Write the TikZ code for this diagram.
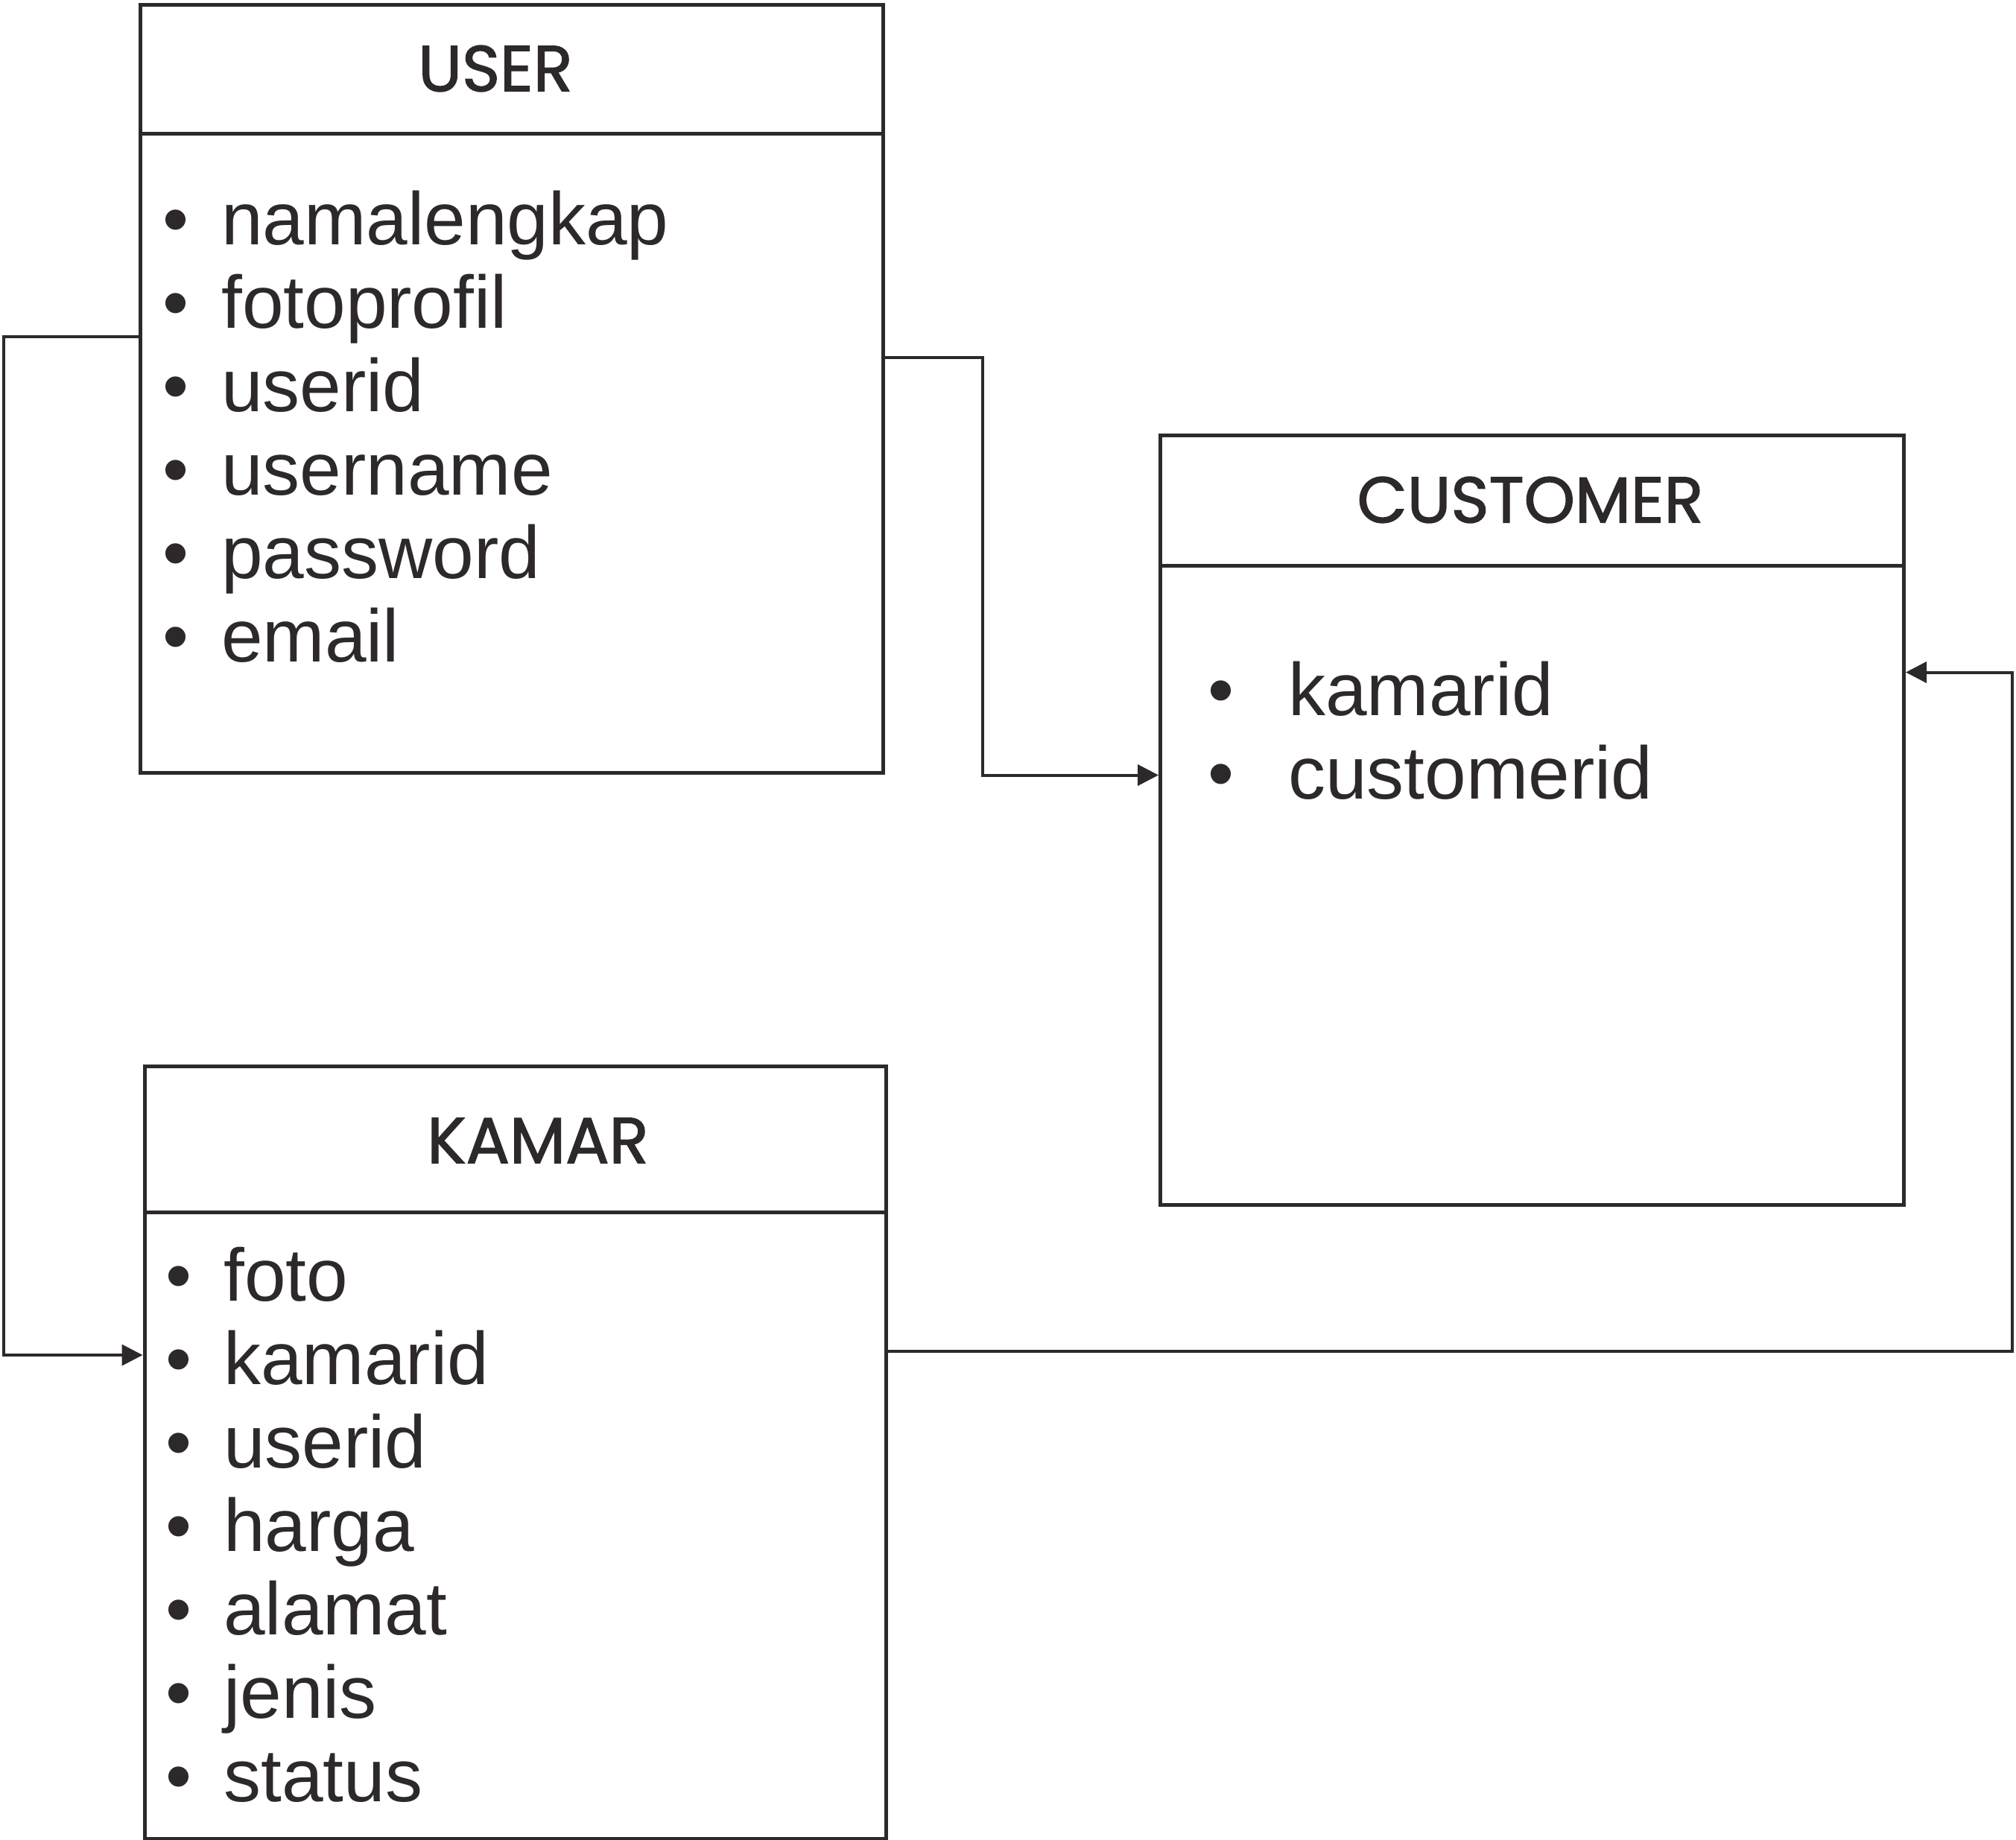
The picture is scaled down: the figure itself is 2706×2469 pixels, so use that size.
\documentclass[tikz,border=0pt]{standalone}
\usepackage{fontspec}
\setmainfont{Liberation Sans}
\newfontfamily\headfont[FakeBold=1.6]{Poppins}
\usetikzlibrary{arrows.meta}
\definecolor{ink}{RGB}{45,41,42}
\tikzset{
  box/.style={draw=ink, line width=5pt, rectangle, anchor=north west, inner sep=0pt},
  sep/.style={draw=ink, line width=5pt},
  conn/.style={draw=ink, line width=4pt, -{Triangle[length=28pt,width=28pt]}},
  head/.style={text=ink, inner sep=0pt, font=\headfont\fontsize{87}{87}\selectfont},
  item/.style={text=ink, inner sep=0pt, anchor=base west, font=\fontsize{100}{112}\selectfont},
  bul/.style={text=ink, inner sep=0pt, anchor=base, font=\fontsize{100}{112}\selectfont}
}
\begin{document}
\begin{tikzpicture}[x=1pt,y=-1pt]
\useasboundingbox (0,0) rectangle (2706,2469);
\fill[white] (0,0) rectangle (2706,2469);
% boxes
\node[box, minimum width=997pt, minimum height=1031pt] (user) at (186,3.5) {};
\node[box, minimum width=998pt, minimum height=1033pt] (cust) at (1555,581.5) {};
\node[box, minimum width=995pt, minimum height=1037pt] (kamar) at (191.5,1429) {};
% header separators
\draw[sep] (user.west |- 0,179.5) -- (user.east |- 0,179.5);
\draw[sep] (cust.west |- 0,759) -- (cust.east |- 0,759);
\draw[sep] (kamar.west |- 0,1627) -- (kamar.east |- 0,1627);
% headers
\node[head] (uh) at (665,92) {USER};
\node[head] (ch) at (2054,671) {CUSTOMER};
\node[head] (kh) at (722,1531) {KAMAR};
% user items
\foreach \t [count=\i from 0] in {namalengkap,fotoprofil,userid,username,password,email}{
  \node[bul] (ub\i) at (236,328+112*\i) {•};
  \node[item] (ui\i) at (297,328+112*\i) {\t};
}
% customer items
\foreach \t [count=\i from 0] in {kamarid,customerid}{
  \node[bul] (cb\i) at (1639,960+112*\i) {•};
  \node[item] (ci\i) at (1729,960+112*\i) {\t};
}
% kamar items
\foreach \t [count=\i from 0] in {foto,kamarid,userid,harga,alamat,jenis,status}{
  \node[bul] (kb\i) at (240,1746+112*\i) {•};
  \node[item] (ki\i) at (300,1746+112*\i) {\t};
}
% connectors
\coordinate (c1) at (5,452);
\coordinate (c2) at (5,1819);
\draw[conn] (user.west |- c1) -- (c1) -- (c2) -- (kamar.west |- c2);
\coordinate (c3) at (1318.5,480);
\coordinate (c4) at (1318.5,1040.5);
\draw[conn] (user.east |- c3) -- (c3) -- (c4) -- (cust.west |- c4);
\coordinate (c5) at (2701,1814);
\coordinate (c6) at (2701,902.5);
\draw[conn] (kamar.east |- c5) -- (c5) -- (c6) -- (cust.east |- c6);
\end{tikzpicture}
\end{document}
